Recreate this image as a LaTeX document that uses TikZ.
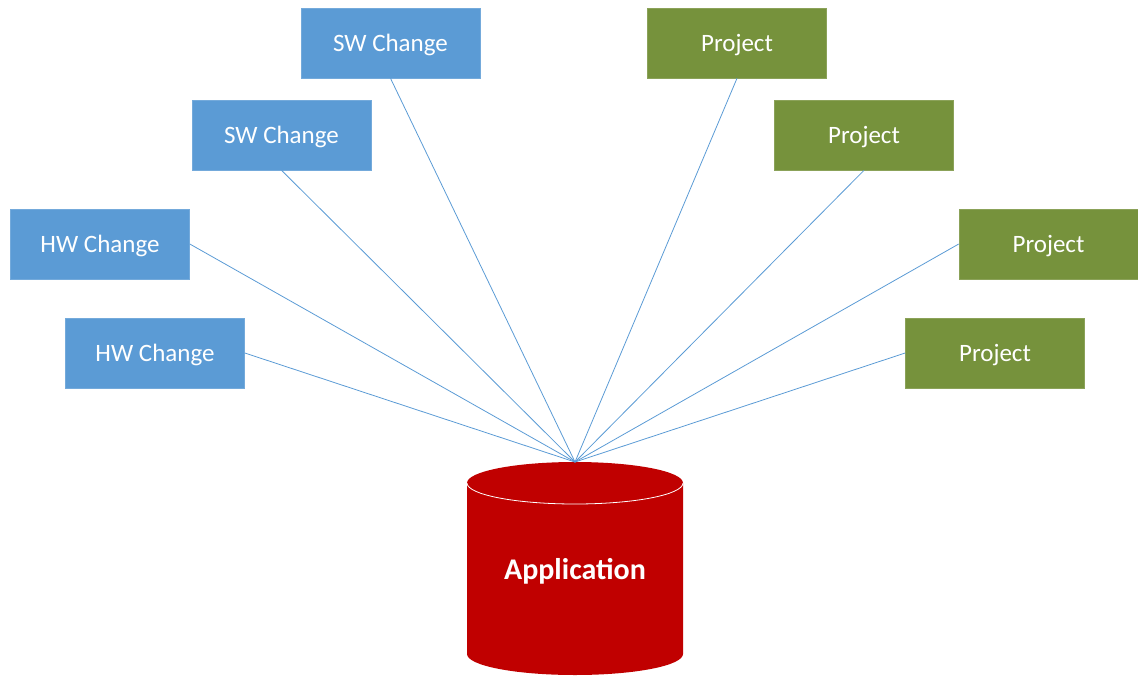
\documentclass[tikz,border=0pt]{standalone}
\usepackage{fontspec}
\setmainfont{Carlito}
\definecolor{swblue}{HTML}{5B9BD5}
\definecolor{projgreen}{HTML}{76923C}
\definecolor{appred}{HTML}{C00000}
\definecolor{linkblue}{HTML}{5B9BD5}
\begin{document}
\begin{tikzpicture}[x=1pt,y=-1pt,
  box/.style={minimum width=179pt,minimum height=70pt,inner sep=0pt,
    text=white,font=\fontsize{25}{30}\selectfont,line width=0.6pt,
    text height=18pt,text depth=1.5pt},
  change/.style={box,fill=swblue,draw=swblue!85!white},
  project/.style={box,fill=projgreen,draw=projgreen!85!white},
  link/.style={draw=linkblue,line width=0.8pt}]
\useasboundingbox (0,0) rectangle (1138,675);

% change requests on the left
\node[change] (sw1) at (390.5,43) {SW Change};
\node[change] (sw2) at (281.5,135) {SW Change};
\node[change] (hw1) at (100,244) {HW Change};
\node[change] (hw2) at (155,353) {HW Change};

% projects on the right
\node[project] (p1) at (737,43) {Project};
\node[project] (p2) at (864,135) {Project};
\node[project] (p3) at (1048.5,244) {Project};
\node[project] (p4) at (995,353) {Project};

% application database (cylinder)
\fill[appred] (467,483) -- (467,654) arc[start angle=180,end angle=0,x radius=108,y radius=21]
  -- (683,483) arc[start angle=0,end angle=-180,x radius=108,y radius=21] -- cycle;
\draw[white,line width=0.8pt] (467,483) arc[start angle=180,end angle=0,x radius=108,y radius=21];
\node[text=white,font=\bfseries\fontsize{30}{36}\selectfont] (app) at (575,571) {Application};
\coordinate (hub) at (575,462);

% connectors
\draw[link] (sw1.south) -- (hub);
\draw[link] (sw2.south) -- (hub);
\draw[link] (hw1.east) -- (hub);
\draw[link] (hw2.east) -- (hub);
\draw[link] (p1.south) -- (hub);
\draw[link] (p2.south) -- (hub);
\draw[link] (p3.west) -- (hub);
\draw[link] (p4.west) -- (hub);
\end{tikzpicture}
\end{document}
